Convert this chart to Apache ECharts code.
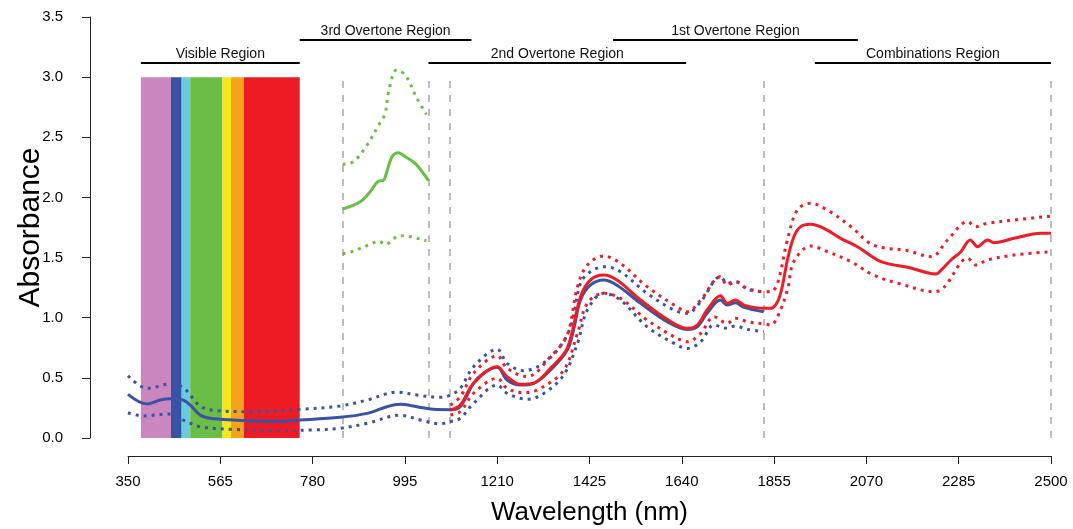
<!DOCTYPE html>
<html><head><meta charset="utf-8">
<script src="https://cdn.jsdelivr.net/npm/echarts@6/dist/echarts.min.js"></script>
<style>html,body{margin:0;padding:0;background:#fff}#c{width:1073px;height:529px}</style>
</head><body><div id="c"></div>
<script>
// ---- data ----
const xTicks = [350, 565, 780, 995, 1210, 1425, 1640, 1855, 2070, 2285, 2500];
const yTicks = [0, 0.5, 1.0, 1.5, 2.0, 2.5, 3.0, 3.5];

// visible spectrum bands: [start nm, end nm, colour]
const bandEdges = [380, 450, 475, 495, 570, 590, 620, 750];
const bandColors = ['#C987BE', '#3953A4', '#6ACBDF', '#6ABD45', '#F2E81B', '#F7A21B', '#ED1C24'];
const bandTop = 3.0;

// dashed vertical markers (nm)
const dashedLines = [850, 1050, 1100, 1830, 2500];

// region brackets
const regionNames = ['Visible Region', '3rd Overtone Region', '2nd Overtone Region', '1st Overtone Region', 'Combinations Region'];
const regionStart = [380, 750, 1050, 1480, 1950];
const regionEnd = [750, 1150, 1650, 2050, 2500];
const regionTier = [0, 1, 0, 1, 0];

const blueMean = [[350,0.363],[394,0.283],[425,0.316],[448,0.327],[478,0.316],[495,0.274],[518,0.191],[541,0.164],[595,0.150],[688,0.139],[751,0.15],[844,0.172],[907,0.205],[953,0.26],[984,0.28],[1023,0.26],[1061,0.238],[1101,0.235],[1124,0.26],[1155,0.455],[1178,0.538],[1210,0.588],[1233,0.482],[1264,0.44],[1295,0.455],[1334,0.565],[1373,0.73],[1388,0.9],[1404,1.147],[1427,1.27],[1458,1.313],[1489,1.27],[1544,1.12],[1606,0.967],[1653,0.903],[1676,0.925],[1699,1.037],[1730,1.147],[1746,1.105],[1765,1.125],[1785,1.086],[1831,1.05]];
const blueUpper = [[350,0.518],[394,0.413],[425,0.432],[443,0.449],[478,0.421],[518,0.266],[557,0.227],[634,0.219],[751,0.238],[844,0.266],[907,0.316],[977,0.382],[1023,0.357],[1077,0.338],[1101,0.357],[1124,0.413],[1155,0.593],[1210,0.737],[1233,0.621],[1272,0.56],[1311,0.607],[1350,0.73],[1381,0.925],[1404,1.286],[1427,1.383],[1462,1.424],[1497,1.383],[1559,1.203],[1622,1.064],[1653,1.037],[1684,1.133],[1730,1.341],[1746,1.286],[1765,1.3],[1793,1.236],[1831,1.216]];
const blueLower = [[350,0.21],[385,0.183],[443,0.2],[478,0.15],[518,0.094],[595,0.072],[697,0.061],[782,0.067],[844,0.08],[907,0.122],[984,0.189],[1031,0.15],[1077,0.118],[1101,0.136],[1124,0.164],[1155,0.288],[1210,0.44],[1233,0.372],[1280,0.322],[1319,0.372],[1365,0.524],[1397,0.787],[1420,1.064],[1458,1.203],[1497,1.147],[1559,0.925],[1622,0.787],[1653,0.745],[1684,0.8],[1715,0.939],[1746,0.912],[1765,0.931],[1793,0.903],[1831,0.884]];

const redMean = [[1101,0.233],[1124,0.274],[1155,0.455],[1210,0.593],[1233,0.51],[1264,0.446],[1295,0.455],[1334,0.579],[1373,0.745],[1404,1.175],[1427,1.313],[1458,1.355],[1489,1.313],[1544,1.147],[1606,0.987],[1653,0.912],[1676,0.939],[1699,1.064],[1730,1.183],[1746,1.12],[1765,1.147],[1785,1.105],[1833,1.078],[1847,1.078],[1863,1.133],[1874,1.258],[1886,1.48],[1901,1.673],[1917,1.757],[1940,1.776],[1971,1.743],[2010,1.66],[2049,1.59],[2104,1.466],[2166,1.419],[2212,1.374],[2232,1.363],[2243,1.391],[2267,1.48],[2290,1.549],[2312,1.646],[2329,1.59],[2352,1.646],[2367,1.624],[2414,1.66],[2476,1.702],[2500,1.702]];
const redUpper = [[1101,0.274],[1124,0.343],[1155,0.538],[1210,0.682],[1233,0.579],[1280,0.51],[1334,0.676],[1373,0.856],[1397,1.258],[1420,1.438],[1458,1.513],[1497,1.452],[1559,1.258],[1622,1.106],[1653,1.05],[1684,1.147],[1730,1.341],[1746,1.272],[1765,1.3],[1793,1.244],[1833,1.216],[1847,1.216],[1863,1.286],[1886,1.646],[1909,1.895],[1940,1.951],[1979,1.895],[2034,1.757],[2086,1.604],[2166,1.557],[2221,1.507],[2259,1.646],[2306,1.798],[2325,1.757],[2352,1.785],[2414,1.812],[2500,1.845]];
const redLower = [[1101,0.191],[1124,0.219],[1155,0.372],[1210,0.496],[1233,0.413],[1272,0.377],[1311,0.413],[1365,0.565],[1397,0.87],[1420,1.12],[1458,1.203],[1497,1.161],[1559,0.981],[1622,0.842],[1653,0.8],[1684,0.87],[1715,1.008],[1746,0.953],[1765,0.995],[1793,0.967],[1833,0.948],[1847,0.939],[1863,1.008],[1886,1.23],[1901,1.466],[1940,1.596],[1979,1.549],[2034,1.466],[2086,1.355],[2150,1.28],[2229,1.216],[2252,1.258],[2306,1.494],[2325,1.438],[2352,1.48],[2414,1.521],[2500,1.549]];

const greenMean = [[850,1.904],[891,1.964],[914,2.047],[934,2.136],[945,2.142],[953,2.214],[965,2.339],[980,2.372],[996,2.339],[1019,2.283],[1050,2.139]];
const greenUpper = [[850,2.275],[875,2.297],[907,2.436],[934,2.602],[949,2.699],[957,2.879],[976,3.059],[996,3.017],[1023,2.824],[1045,2.69]];
const greenLower = [[850,1.53],[875,1.554],[914,1.61],[934,1.637],[949,1.61],[984,1.682],[1008,1.673],[1045,1.64]];

// ---- chart ----
const BLUE = '#3953A4', RED = '#EE1D25', GREEN = '#6ABD45';
const tierY = [3.117, 3.308];
const mainFont = "'Liberation Sans', Arial, sans-serif";

function solid(name, data, color, z) {
  return { name, type: 'line', data, smooth: 0.35, showSymbol: false, symbol: 'none', z: z || 5,
    lineStyle: { color, width: 3 }, silent: true };
}
function dotted(name, data, color, z) {
  return { name, type: 'line', data, smooth: 0.35, showSymbol: false, symbol: 'none', z: z || 5,
    lineStyle: { color, width: 3, type: [3, 5], cap: 'butt' }, silent: true };
}

const bandAreas = [];
for (let i = 0; i < bandColors.length; i++) {
  bandAreas.push([{ xAxis: bandEdges[i], yAxis: 0, itemStyle: { color: bandColors[i] } }, { xAxis: bandEdges[i + 1], yAxis: bandTop }]);
}
const dashData = dashedLines.map(x => [{ coord: [x, 0] }, { coord: [x, bandTop] }]);
const regionData = regionNames.map((n, i) => [
  { name: n, coord: [regionStart[i], tierY[regionTier[i]]] },
  { coord: [regionEnd[i], tierY[regionTier[i]]] }
]);

const chart = echarts.init(document.getElementById('c'), null, { renderer: 'canvas' });
chart.setOption({
  animation: false,
  backgroundColor: '#fff',
  grid: { left: 128, right: 22, top: 17, bottom: 91, containLabel: false, outerBoundsMode: 'none' },
  xAxis: {
    type: 'value', min: 350, max: 2500, offset: 18,
    name: 'Wavelength (nm)', nameLocation: 'middle', nameGap: 44, nameMoveOverlap: false,
    nameTextStyle: { fontSize: 26, color: '#000', fontFamily: mainFont },
    axisLine: { show: true, onZero: false, lineStyle: { color: '#222', width: 1 } },
    axisTick: { show: true, length: 8, customValues: xTicks, lineStyle: { color: '#222' } },
    axisLabel: { customValues: xTicks, margin: 18, fontSize: 15, color: '#000', fontFamily: mainFont, formatter: v => String(v) },
    splitLine: { show: false }
  },
  yAxis: {
    type: 'value', min: 0, max: 3.5, interval: 0.5, offset: 38,
    name: 'Absorbance', nameLocation: 'middle', nameGap: 44, nameMoveOverlap: false,
    nameTextStyle: { fontSize: 30, color: '#000', fontFamily: mainFont },
    axisLine: { show: true, onZero: false, lineStyle: { color: '#222', width: 1 } },
    axisTick: { show: true, length: 8, lineStyle: { color: '#222' } },
    axisLabel: { margin: 27, fontSize: 15, color: '#000', fontFamily: mainFont, formatter: v => v.toFixed(1) },
    splitLine: { show: false }
  },
  series: [
    { type: 'line', data: [], z: 1, silent: true,
      markArea: { silent: true, data: bandAreas } },
    { type: 'line', data: [], z: 2, silent: true,
      markLine: { silent: true, symbol: 'none', animation: false,
        lineStyle: { color: '#BDBDBD', width: 2, type: [7, 7] }, label: { show: false }, data: dashData } },
    { type: 'line', data: [], z: 2, silent: true,
      markLine: { silent: true, symbol: 'none', animation: false,
        lineStyle: { color: '#000', width: 2, type: 'solid' },
        label: { show: true, position: 'insideMiddleTop', distance: 2, formatter: '{b}', fontSize: 14, color: '#111', fontFamily: mainFont },
        data: regionData } },
    dotted('blueUpper', blueUpper, BLUE, 5),
    dotted('blueLower', blueLower, BLUE, 5),
    solid('blueMean', blueMean, BLUE, 6),
    dotted('redUpper', redUpper, RED, 7),
    dotted('redLower', redLower, RED, 7),
    solid('redMean', redMean, RED, 8),
    dotted('greenUpper', greenUpper, GREEN, 7),
    dotted('greenLower', greenLower, GREEN, 7),
    solid('greenMean', greenMean, GREEN, 8)
  ]
});
</script></body></html>
